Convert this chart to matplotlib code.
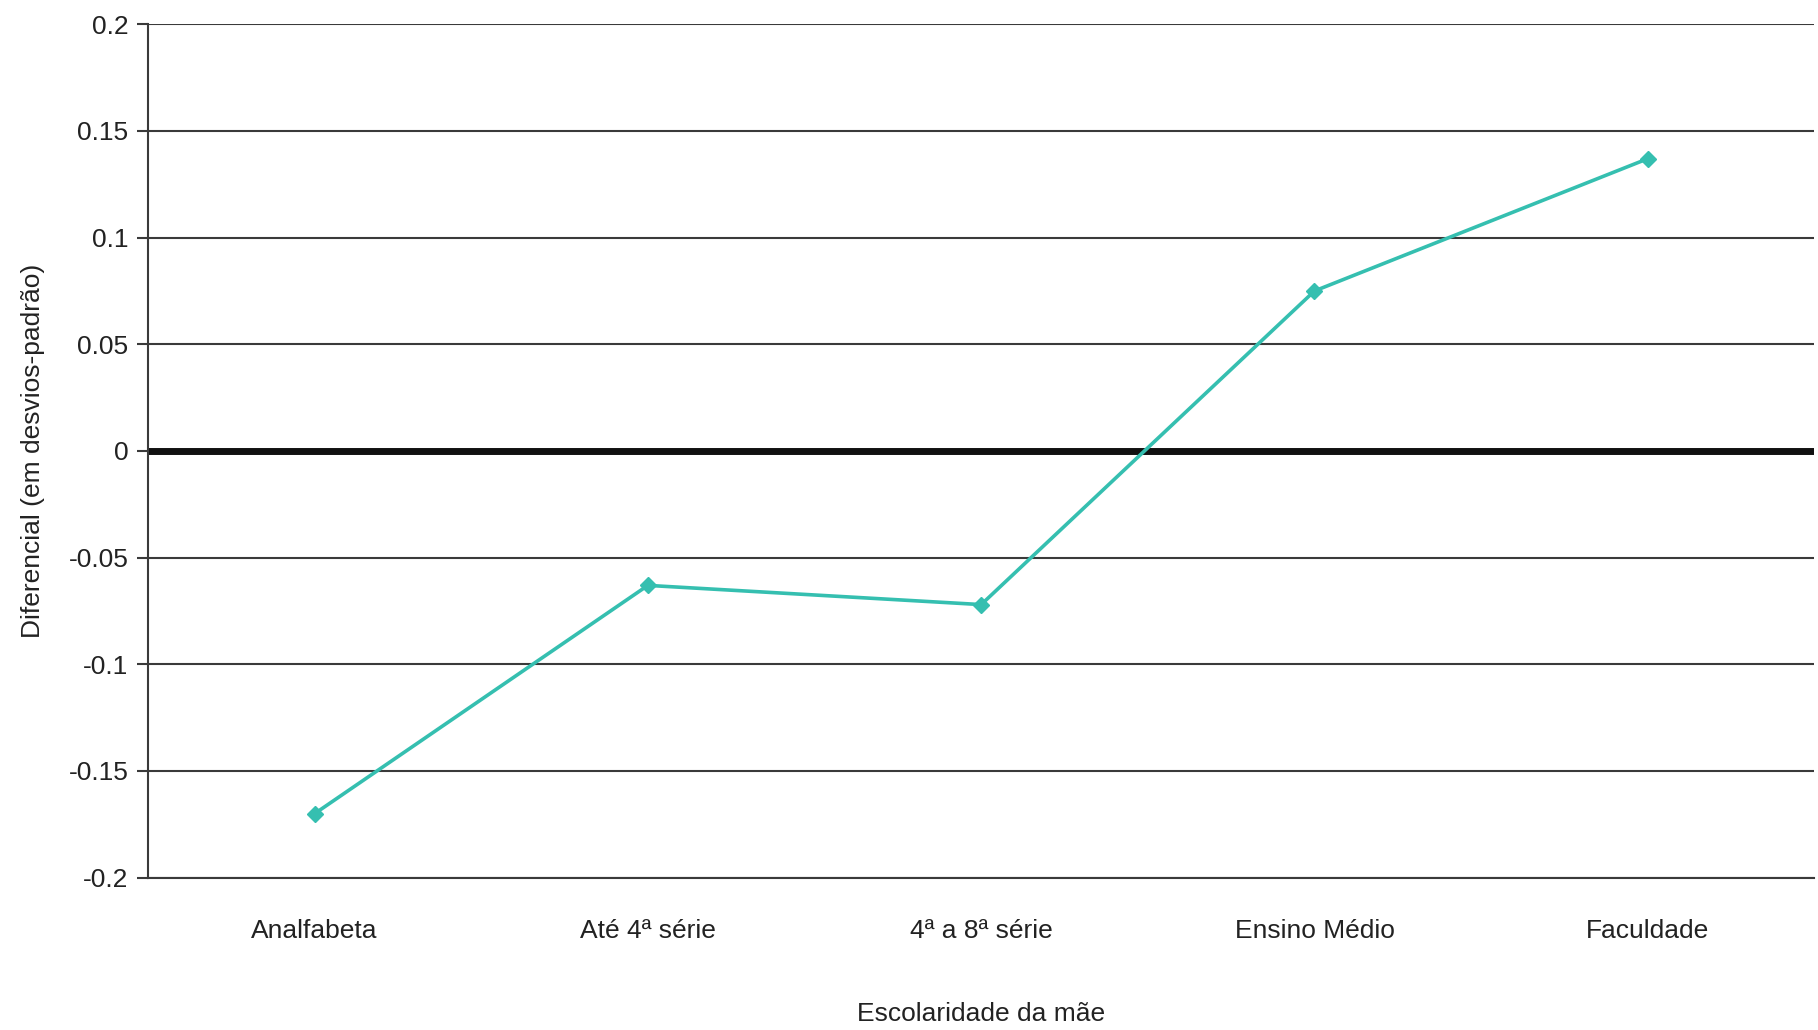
import matplotlib
matplotlib.use("Agg")
import matplotlib.pyplot as plt
from matplotlib import font_manager

# data
categories = ["Analfabeta", "Até 4ª série", "4ª a 8ª série", "Ensino Médio", "Faculdade"]
diferencial = [-0.170, -0.063, -0.072, 0.075, 0.137]
yticks = [-0.2, -0.15, -0.1, -0.05, 0, 0.05, 0.1, 0.15, 0.2]
ytick_labels = ["-0.2", "-0.15", "-0.1", "-0.05", "0", "0.05", "0.1", "0.15", "0.2"]

names = {f.name for f in font_manager.fontManager.ttflist}
family = "Liberation Sans Narrow" if "Liberation Sans Narrow" in names else "Liberation Sans"
plt.rcParams["font.family"] = [family, "DejaVu Sans"]

TEAL = "#35bfb0"
GRID = "#3a3a3a"
TXT = "#222222"

fig = plt.figure(figsize=(18.18, 10.30), dpi=100)
ax = fig.add_axes([0.0814, 0.1479, 0.9166, 0.8285])

x = [i + 0.5 for i in range(len(categories))]
ax.plot(x, diferencial, color=TEAL, lw=2.6, marker="D", ms=8, zorder=3)

ax.set_xlim(0, len(categories))
ax.set_ylim(-0.2, 0.2)
ax.set_yticks(yticks)
ax.set_yticklabels(ytick_labels, fontsize=19, color=TXT)
ax.set_xticks(x)
ax.set_xticklabels(categories, fontsize=19, color=TXT)
ax.tick_params(axis="x", length=0, pad=30)
ax.tick_params(axis="y", length=8, width=1.5, color=GRID, pad=6)

for v in yticks:
    if v == 0:
        ax.axhline(v, color="#111111", lw=5, zorder=2)
    else:
        ax.axhline(v, color=GRID, lw=1.5, zorder=1)

for s in ["top", "right"]:
    ax.spines[s].set_visible(False)
ax.spines["left"].set_color(GRID)
ax.spines["left"].set_linewidth(1.5)
ax.spines["bottom"].set_color(GRID)
ax.spines["bottom"].set_linewidth(1.5)

ax.set_ylabel("Diferencial (em desvios-padrão)", fontsize=19, color=TXT, labelpad=17)
ax.set_xlabel("Escolaridade da mãe", fontsize=19, color=TXT, labelpad=42)

fig.savefig("out.png", dpi=100)
